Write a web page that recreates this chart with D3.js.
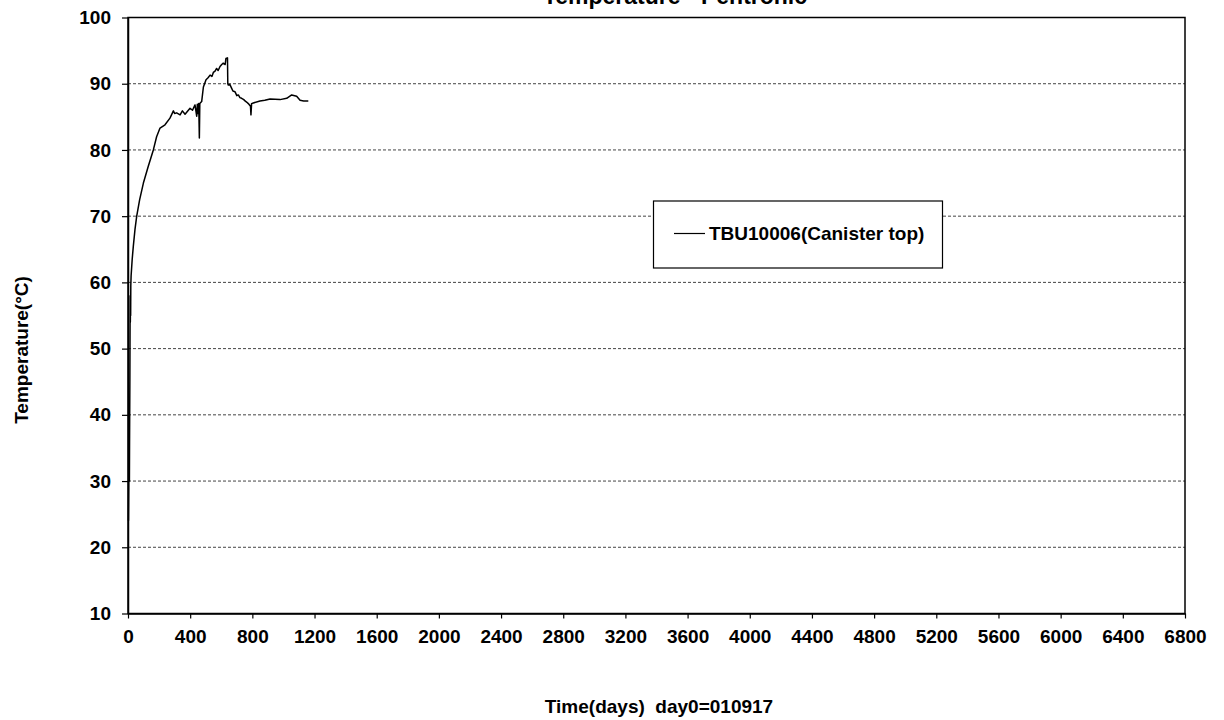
<!DOCTYPE html>
<html><head><meta charset="utf-8">
<script src="https://cdn.jsdelivr.net/npm/d3@7"></script>
<style>body{margin:0;background:#fff}svg{display:block}text{font-family:Arial,"Liberation Sans",sans-serif;font-weight:bold;fill:#000;white-space:pre}</style>
</head><body>
<script>
const title = "Temperature - Pentronic";
const xLabel = "Time(days)  day0=010917";
const yLabel = "Temperature(°C)";
const seriesName = "TBU10006(Canister top)";
const xTicks = [0,400,800,1200,1600,2000,2400,2800,3200,3600,4000,4400,4800,5200,5600,6000,6400,6800];
const yTicks = [10,20,30,40,50,60,70,80,90,100];
const days  = [3,5,7,9,10,12,13,14,15,16,17,18,20,27,34,45,56,75,99,130,163,184,206,238,270,292,300,313,335,350,367,399,415,431,442,446,450,455,459,462,474,485,502,515,528,540,549,560,570,580,592,603,613,625,630,640,642,645,655,667,675,688,700,710,720,731,745,753,765,774,788,791,795,806,849,880,914,978,1021,1053,1085,1107,1130,1160];
const temps = [24.0,30.5,38.0,30.0,36.0,45.0,52.0,58.0,54.0,57.0,55.0,59.5,61.0,63.5,65.4,68.0,70.0,72.5,75.0,77.5,80.0,82.0,83.3,83.8,84.8,85.9,85.5,85.6,85.3,85.9,85.4,86.3,86.0,86.8,85.1,86.9,85.5,87.0,81.8,87.0,87.3,89.5,90.6,90.9,91.3,91.1,91.7,91.9,92.3,92.0,92.6,92.9,93.1,92.9,93.8,93.9,90.0,89.8,89.9,89.3,88.9,88.8,88.2,88.3,87.9,87.8,87.6,87.4,87.2,87.0,86.6,85.3,87.0,87.1,87.4,87.5,87.7,87.6,87.8,88.3,88.1,87.5,87.4,87.4];
const data = days.map((d,i)=>({d, t: temps[i]}));

const W = 1224, H = 720;
const m = {left:128, right:1185, top:17.5, bottom:613.5};
const svg = d3.select("body").append("svg").attr("width",W).attr("height",H);
const x = d3.scaleLinear().domain([0,6800]).range([m.left,m.right]);
const y = d3.scaleLinear().domain([10,100]).range([m.bottom,m.top]);

// gridlines
svg.append("g").selectAll("line").data(yTicks.filter(v=>v>10 && v<100)).join("line")
  .attr("x1",m.left).attr("x2",m.right).attr("y1",d=>y(d)).attr("y2",d=>y(d))
  .attr("stroke","#444").attr("stroke-width",1).attr("stroke-dasharray","3,2");

// frame
svg.append("rect").attr("x",m.left).attr("y",m.top).attr("width",m.right-m.left).attr("height",m.bottom-m.top)
  .attr("fill","none").attr("stroke","#000").attr("stroke-width",1.5);

// axes
const xa = svg.append("g").attr("transform",`translate(0,${m.bottom})`)
  .call(d3.axisBottom(x).tickValues(xTicks).tickSize(6).tickSizeOuter(0).tickFormat(d3.format("d")));
const ya = svg.append("g").attr("transform",`translate(${m.left},0)`)
  .call(d3.axisLeft(y).tickValues(yTicks).tickSize(6).tickSizeOuter(0).tickFormat(d3.format("d")));
[xa,ya].forEach(a=>{
  a.select(".domain").attr("stroke","#000").attr("stroke-width",1.5);
  a.selectAll(".tick line").attr("stroke","#000").attr("stroke-width",1.2);
  a.selectAll(".tick text").attr("font-size",19).attr("font-weight","bold").attr("font-family","Arial, 'Liberation Sans', sans-serif").attr("fill","#000");
});
xa.selectAll(".tick line").attr("y2",5);
xa.selectAll(".tick text").attr("y",16);
ya.selectAll(".tick line").attr("x2",-6);
ya.selectAll(".tick text").attr("x",-17);

// line
svg.append("path").datum(data)
  .attr("fill","none").attr("stroke","#000").attr("stroke-width",1.5).attr("stroke-linejoin","round")
  .attr("d", d3.line().x(d=>x(d.d)).y(d=>y(d.t)));

// title
svg.append("text").attr("x",675).attr("y",4).attr("text-anchor","middle").attr("font-size",23).text(title);
// axis labels
svg.append("text").attr("x",659).attr("y",713).attr("text-anchor","middle").attr("font-size",19).text(xLabel);
svg.append("text").attr("transform","translate(28,350) rotate(-90)").attr("text-anchor","middle").attr("font-size",19).text(yLabel);

// legend
const lg = svg.append("g");
lg.append("rect").attr("x",653.5).attr("y",201).attr("width",289).attr("height",67).attr("fill","#fff").attr("stroke","#000").attr("stroke-width",1.2);
lg.append("line").attr("x1",674).attr("x2",705).attr("y1",233.5).attr("y2",233.5).attr("stroke","#000").attr("stroke-width",1.2);
lg.append("text").attr("x",709).attr("y",240).attr("font-size",19).text(seriesName);
</script>
</body></html>
